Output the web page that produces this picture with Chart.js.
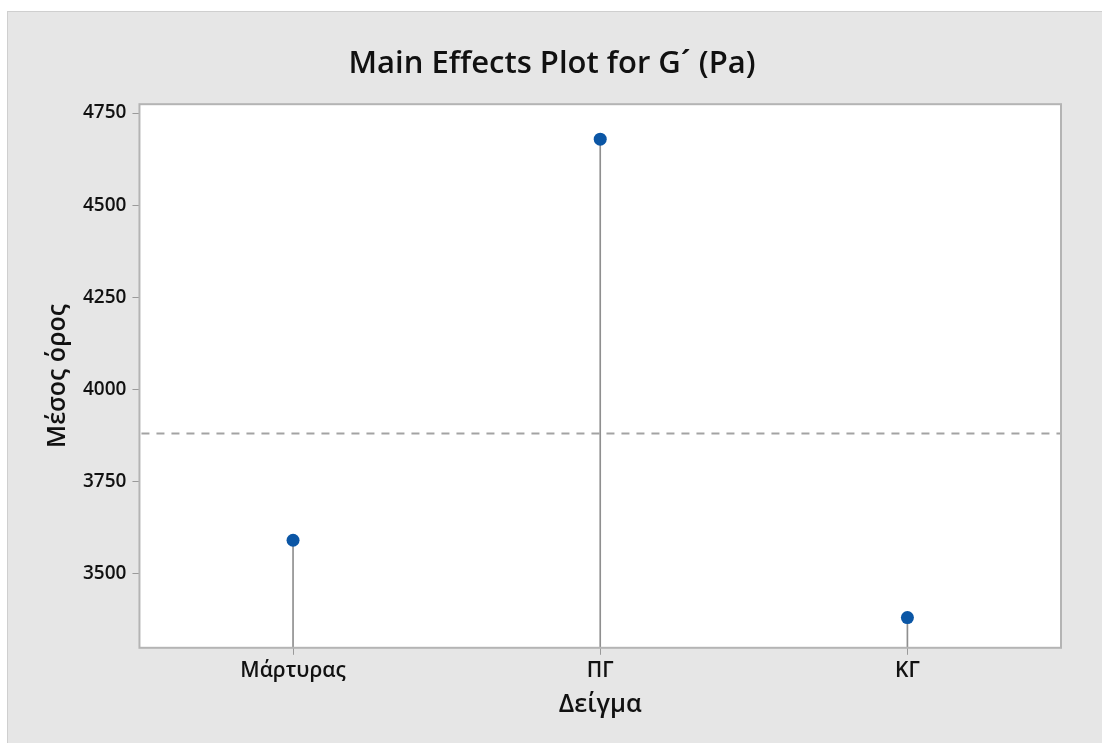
<!DOCTYPE html>
<html>
<head>
<meta charset="utf-8">
<script src="https://cdn.jsdelivr.net/npm/chart.js@4"></script>
<style>
  html, body { margin: 0; padding: 0; background: #ffffff; }
  #frame {
    position: absolute; left: 7px; top: 11px;
    width: 1095px; height: 732px;
    background: #e6e6e6;
    border-top: 1px solid #cfcfcf; border-left: 1px solid #cfcfcf;
    box-sizing: border-box;
  }
  canvas { display: block; }
</style>
</head>
<body>
<div id="frame"><canvas id="effectsChart" width="1094" height="731"></canvas></div>
<script>
// data
const categories = ['Μάρτυρας', 'ΠΓ', 'ΚΓ'];
const meanValues = [3590, 4679, 3380];
const overallMean = 3880;
const yTicks = [3500, 3750, 4000, 4250, 4500, 4750];

const fontFamily = "'Open Sans', 'Noto Sans', sans-serif";

// white plot area, border and the dashed overall-mean line
const plotFrame = {
    id: 'plotFrame',
    beforeDatasetsDraw(chart) {
        const { ctx, chartArea } = chart;
        ctx.save();
        ctx.fillStyle = '#ffffff';
        ctx.fillRect(chartArea.left, chartArea.top, chartArea.right - chartArea.left, chartArea.bottom - chartArea.top);
        const y = Math.round(chart.scales.y.getPixelForValue(overallMean)) + 0.5;
        ctx.strokeStyle = '#a3a3a3';
        ctx.lineWidth = 2;
        ctx.setLineDash([8, 7]);
        ctx.beginPath();
        ctx.moveTo(chartArea.left + 2, y);
        ctx.lineTo(chartArea.right, y);
        ctx.stroke();
        ctx.restore();
    },
    afterDraw(chart) {
        const { ctx, chartArea } = chart;
        ctx.save();
        ctx.strokeStyle = '#b4b4b4';
        ctx.lineWidth = 2;
        ctx.strokeRect(chartArea.left, chartArea.top, chartArea.right - chartArea.left, chartArea.bottom - chartArea.top);
        ctx.restore();
    }
};

const ctx = document.getElementById('effectsChart').getContext('2d');
const effectsChart = new Chart(ctx, {
    data: {
        labels: categories,
        datasets: [{
            type: 'line',
            data: meanValues,
            showLine: false,
            pointRadius: 6.5,
            pointHoverRadius: 6.5,
            pointBackgroundColor: '#0b56a5',
            pointBorderColor: '#0b56a5',
            pointBorderWidth: 0,
            order: 0
        }, {
            type: 'bar', // thin stems from the bottom of the plot up to each mean
            data: meanValues,
            barThickness: 1,
            backgroundColor: '#8f8f8f',
            order: 1
        }]
    },
    options: {
        responsive: false,
        animation: false,
        events: [],
        layout: { padding: { left: 35, right: 41, top: 0, bottom: 23 } },
        plugins: {
            legend: { display: false },
            tooltip: { enabled: false },
            title: {
                display: true,
                text: 'Main Effects Plot for G´ (Pa)',
                color: '#111111',
                font: { family: fontFamily, size: 31, weight: '600' },
                padding: { top: 34, bottom: 21 }
            }
        },
        scales: {
            x: {
                offset: true,
                grid: { drawOnChartArea: false, drawTicks: true, tickLength: 7, color: '#9a9a9a', offset: false },
                border: { display: false },
                ticks: { color: '#111111', padding: 4, font: { family: fontFamily, size: 21, weight: '600' } },
                title: {
                    display: true, text: 'Δείγμα', color: '#111111',
                    font: { family: fontFamily, size: 25, weight: '600' },
                    padding: { top: 2, bottom: 0 }
                }
            },
            y: {
                min: 3298,
                max: 4774,
                afterBuildTicks(scale) { scale.ticks = yTicks.map(v => ({ value: v })); },
                grid: { drawOnChartArea: false, drawTicks: true, tickLength: 7, color: '#9a9a9a' },
                border: { display: false },
                ticks: {
                    color: '#111111', padding: 6,
                    font: { family: fontFamily, size: 19, weight: '600' },
                    callback: v => String(v)
                },
                title: {
                    display: true, text: 'Μέσος όρος', color: '#111111',
                    font: { family: fontFamily, size: 25, weight: '600' },
                    padding: { top: 0, bottom: 4 }
                }
            }
        }
    },
    plugins: [plotFrame]
});
</script>
</body>
</html>
